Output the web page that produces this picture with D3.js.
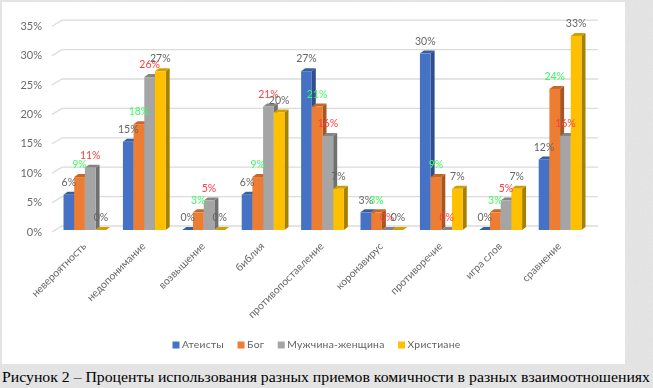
<!DOCTYPE html>
<html><head><meta charset="utf-8">
<script src="https://cdn.jsdelivr.net/npm/d3@7/dist/d3.min.js"></script>
<style>html,body{margin:0;padding:0;background:#dedede;overflow:hidden}svg{display:block}
text{font-family:Lato,"Open Sans",sans-serif}</style></head><body>
<svg id="c" width="653" height="388"></svg>
<script>
const categories=["невероятность","недопонимание","возвышение","библия","противопоставление","коронавирус","противоречие","игра слов","сравнение"];
const seriesNames=["Атеисты","Бог","Мужчина-женщина","Христиане"];
const atheists=[6,15,0,6,27,3,30,0,12];
const god=[9,18,3,9,21,3,9,3,24];
const manWoman=[10.6,26,5,21,16,0,0,5,16];
const christians=[0,27,0,20,7,0,7,7,33];
const yTicks=[0,5,10,15,20,25,30,35];
const caption="Рисунок 2 – Проценты использования разных приемов комичности в разных взаимоотношениях";
const front=["#4472c4","#ed7d31","#a5a5a5","#ffc000"];
const side=["#2f4f8c","#a65722","#6f6f6f","#a88000"];
const top_=["#37609f","#c4682a","#858585","#d0a000"];
const labelCol=["#666666","#3dfb62","#ff3d3d","#666666"];
const values=[atheists,god,manWoman,christians];

const svg=d3.select("#c");
const defs=svg.append("defs");
defs.append("filter").attr("id","soft").attr("x",0).attr("y",0).attr("width","100%").attr("height","100%")
  .append("feGaussianBlur").attr("stdDeviation",0.4);
const noise=defs.append("filter").attr("id","noise").attr("x",0).attr("y",0).attr("width","100%").attr("height","100%");
noise.append("feTurbulence").attr("type","fractalNoise").attr("baseFrequency",0.8).attr("numOctaves",2).attr("seed",3);
noise.append("feColorMatrix").attr("values","0 0 0 0 0.6  0 0 0 0 0.6  0 0 0 0 0.6  0.6 0 0 0 -0.12");
svg.append("rect").attr("width",653).attr("height",388).attr("fill","#e6e6e6");
svg.append("rect").attr("width",653).attr("height",388).attr("filter","url(#noise)").attr("opacity",0.5);
const chart=svg.append("g").attr("filter","url(#soft)");
chart.append("rect").attr("x",2).attr("y",2).attr("width",623).attr("height",362).attr("fill","#fff");

const dx=4,dy=3;
const y=d3.scaleLinear().domain([0,35]).range([230,24.2]);
const x0=d3.scaleBand().domain(categories).range([55.2,589.8]).paddingInner(0.28).paddingOuter(0.14);
const x1=d3.scaleBand().domain(d3.range(4)).range([0,x0.bandwidth()]);

// gridlines and wall ticks
const g=chart.append("g");
yTicks.forEach(t=>{
  const yf=y(t)+2, yb=y(t)-4;
  g.append("path").attr("d",`M52,${yf}L62,${yb}L598,${yb}`).attr("fill","none").attr("stroke","#dcdcdc").attr("stroke-width",1.3);
  g.append("text").attr("x",42).attr("y",yf+0.8).attr("text-anchor","end").attr("dominant-baseline","middle")
    .attr("font-size",11).attr("fill","#6a6a6a").text(d3.format(".0f")(t)+"%");
});
// bars
categories.forEach((c,ci)=>{
  const grp=chart.append("g");
  values.forEach((vals,si)=>{
    const v=vals[ci],X=x0(c)+x1(si),W=x1.bandwidth(),T=y(v),B=y(0);
    grp.append("path").attr("d",`M${X+W},${T}L${X+W+dx},${T-dy}L${X+W+dx},${B-dy}L${X+W},${B}Z`).attr("fill",side[si]);
    grp.append("path").attr("d",`M${X},${T}L${X+dx},${T-dy}L${X+W+dx},${T-dy}L${X+W},${T}Z`).attr("fill",top_[si]);
    if(v>0)grp.append("rect").attr("x",X).attr("y",T).attr("width",W).attr("height",B-T).attr("fill",front[si]);
  });
});
// data labels
categories.forEach((c,ci)=>{
  values.forEach((vals,si)=>{
    chart.append("text").attr("x",x0(c)+x1(si)+x1.bandwidth()/2).attr("y",y(vals[ci])-11.5)
      .attr("text-anchor","middle").attr("dominant-baseline","middle").attr("font-size",10.5)
      .attr("fill",labelCol[si]).text(Math.round(vals[ci])+"%");
  });
});
// category labels
categories.forEach(c=>{
  const cx=x0(c)+x0.bandwidth()/2;
  chart.append("text").attr("transform",`translate(${cx},245) rotate(-45)`).attr("text-anchor","end")
    .attr("dominant-baseline","middle").attr("font-size",10.5).attr("fill","#6a6a6a").text(c);
});
// legend
let lx=172.5;
seriesNames.forEach((n,i)=>{
  chart.append("rect").attr("x",lx).attr("y",341.5).attr("width",7).attr("height",7).attr("fill",front[i]);
  const t=chart.append("text").attr("x",lx+9.5).attr("y",345.3).attr("dominant-baseline","middle")
    .attr("font-size",10.3).attr("letter-spacing",0.25).attr("fill","#5f5f5f").text(n);
  lx+=9.5+t.node().getComputedTextLength()+13.5;
});
svg.append("text").attr("x",2).attr("y",382).attr("font-size",15.5).attr("fill","#000")
  .style("font-family","'Liberation Serif',serif").attr("textLength",648).attr("lengthAdjust","spacingAndGlyphs").text(caption);
</script></body></html>
